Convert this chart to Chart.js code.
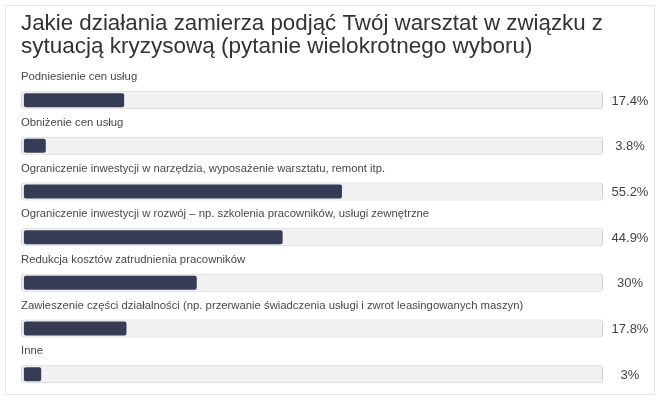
<!DOCTYPE html>
<html>
<head>
<meta charset="utf-8">
<script src="https://cdn.jsdelivr.net/npm/chart.js@4"></script>
<style>
  body { margin: 0; background: #fff; }
  #wrap { position: relative; width: 662px; height: 404px; }
  #card { position: absolute; left: 5px; top: 5px; width: 648px; height: 388px; border: 1px solid #e6e6e6; }
  #chart { position: absolute; left: 0; top: 0; }
</style>
</head>
<body>
<div id="wrap">
  <div id="card"></div>
  <canvas id="chart" width="662" height="404"></canvas>
</div>
<script>
// Chart data
const titleLines = [
    "Jakie działania zamierza podjąć Twój warsztat w związku z",
    "sytuacją kryzysową (pytanie wielokrotnego wyboru)",
];
const categories = [
    "Podniesienie cen usług",
    "Obniżenie cen usług",
    "Ograniczenie inwestycji w narzędzia, wyposażenie warsztatu, remont itp.",
    "Ograniczenie inwestycji w rozwój – np. szkolenia pracowników, usługi zewnętrzne",
    "Redukcja kosztów zatrudnienia pracowników",
    "Zawieszenie części działalności (np. przerwanie świadczenia usługi i zwrot leasingowanych maszyn)",
    "Inne",
];
const values = [17.4, 3.8, 55.2, 44.9, 30, 17.8, 3];
const valueLabels = ["17.4%", "3.8%", "55.2%", "44.9%", "30%", "17.8%", "3%"];

// Draws category labels above the bars and percentages to the right
const rowLabels = {
    id: "rowLabels",
    afterDatasetsDraw(chart) {
        const ctx = chart.ctx;
        const yScale = chart.scales.y;
        ctx.save();
        categories.forEach(function (name, i) {
            const y = yScale.getPixelForValue(i);
            ctx.fillStyle = "#484848";
            ctx.font = "11.3px 'Liberation Sans', Arial, sans-serif";
            ctx.textAlign = "left";
            ctx.textBaseline = "alphabetic";
            ctx.fillText(name, 21, y - 20);

            ctx.font = "13px 'Liberation Sans', Arial, sans-serif";
            ctx.fillStyle = "#444";
            ctx.textAlign = "center";
            ctx.textBaseline = "middle";
            ctx.fillText(valueLabels[i], 630, y + 1);
        });
        ctx.restore();
    },
};

new Chart(document.getElementById("chart"), {
    type: "bar",
    data: {
        labels: categories,
        datasets: [
            {
                label: "Wynik",
                data: values,
                backgroundColor: "#363c56",
                borderRadius: 2,
                borderSkipped: false,
                barPercentage: 0.306,
                categoryPercentage: 1,
                grouped: false,
                order: 1,
            },
            {
                label: "Tło",
                data: categories.map(() => [-0.5, 100.5]),
                backgroundColor: "#f1f1f1",
                borderColor: "#d2d2d2",
                borderWidth: 1,
                borderRadius: 3,
                borderSkipped: false,
                barPercentage: 0.394,
                categoryPercentage: 1,
                grouped: false,
                order: 2,
            },
        ],
    },
    options: {
        indexAxis: "y",
        responsive: false,
        animation: false,
        layout: {
            padding: { left: 21, right: 59, top: 0, bottom: 7 },
        },
        scales: {
            x: { display: false, min: -0.5, max: 100.5 },
            y: { display: false },
        },
        plugins: {
            legend: { display: false },
            tooltip: { enabled: false },
            title: {
                display: true,
                text: titleLines,
                align: "start",
                color: "#333",
                font: { family: "'Liberation Sans', Arial, sans-serif", size: 22.5, weight: "normal", lineHeight: 1.03 },
                padding: { top: 12, bottom: 19 },
            },
        },
    },
    plugins: [rowLabels],
});
</script>
</body>
</html>
